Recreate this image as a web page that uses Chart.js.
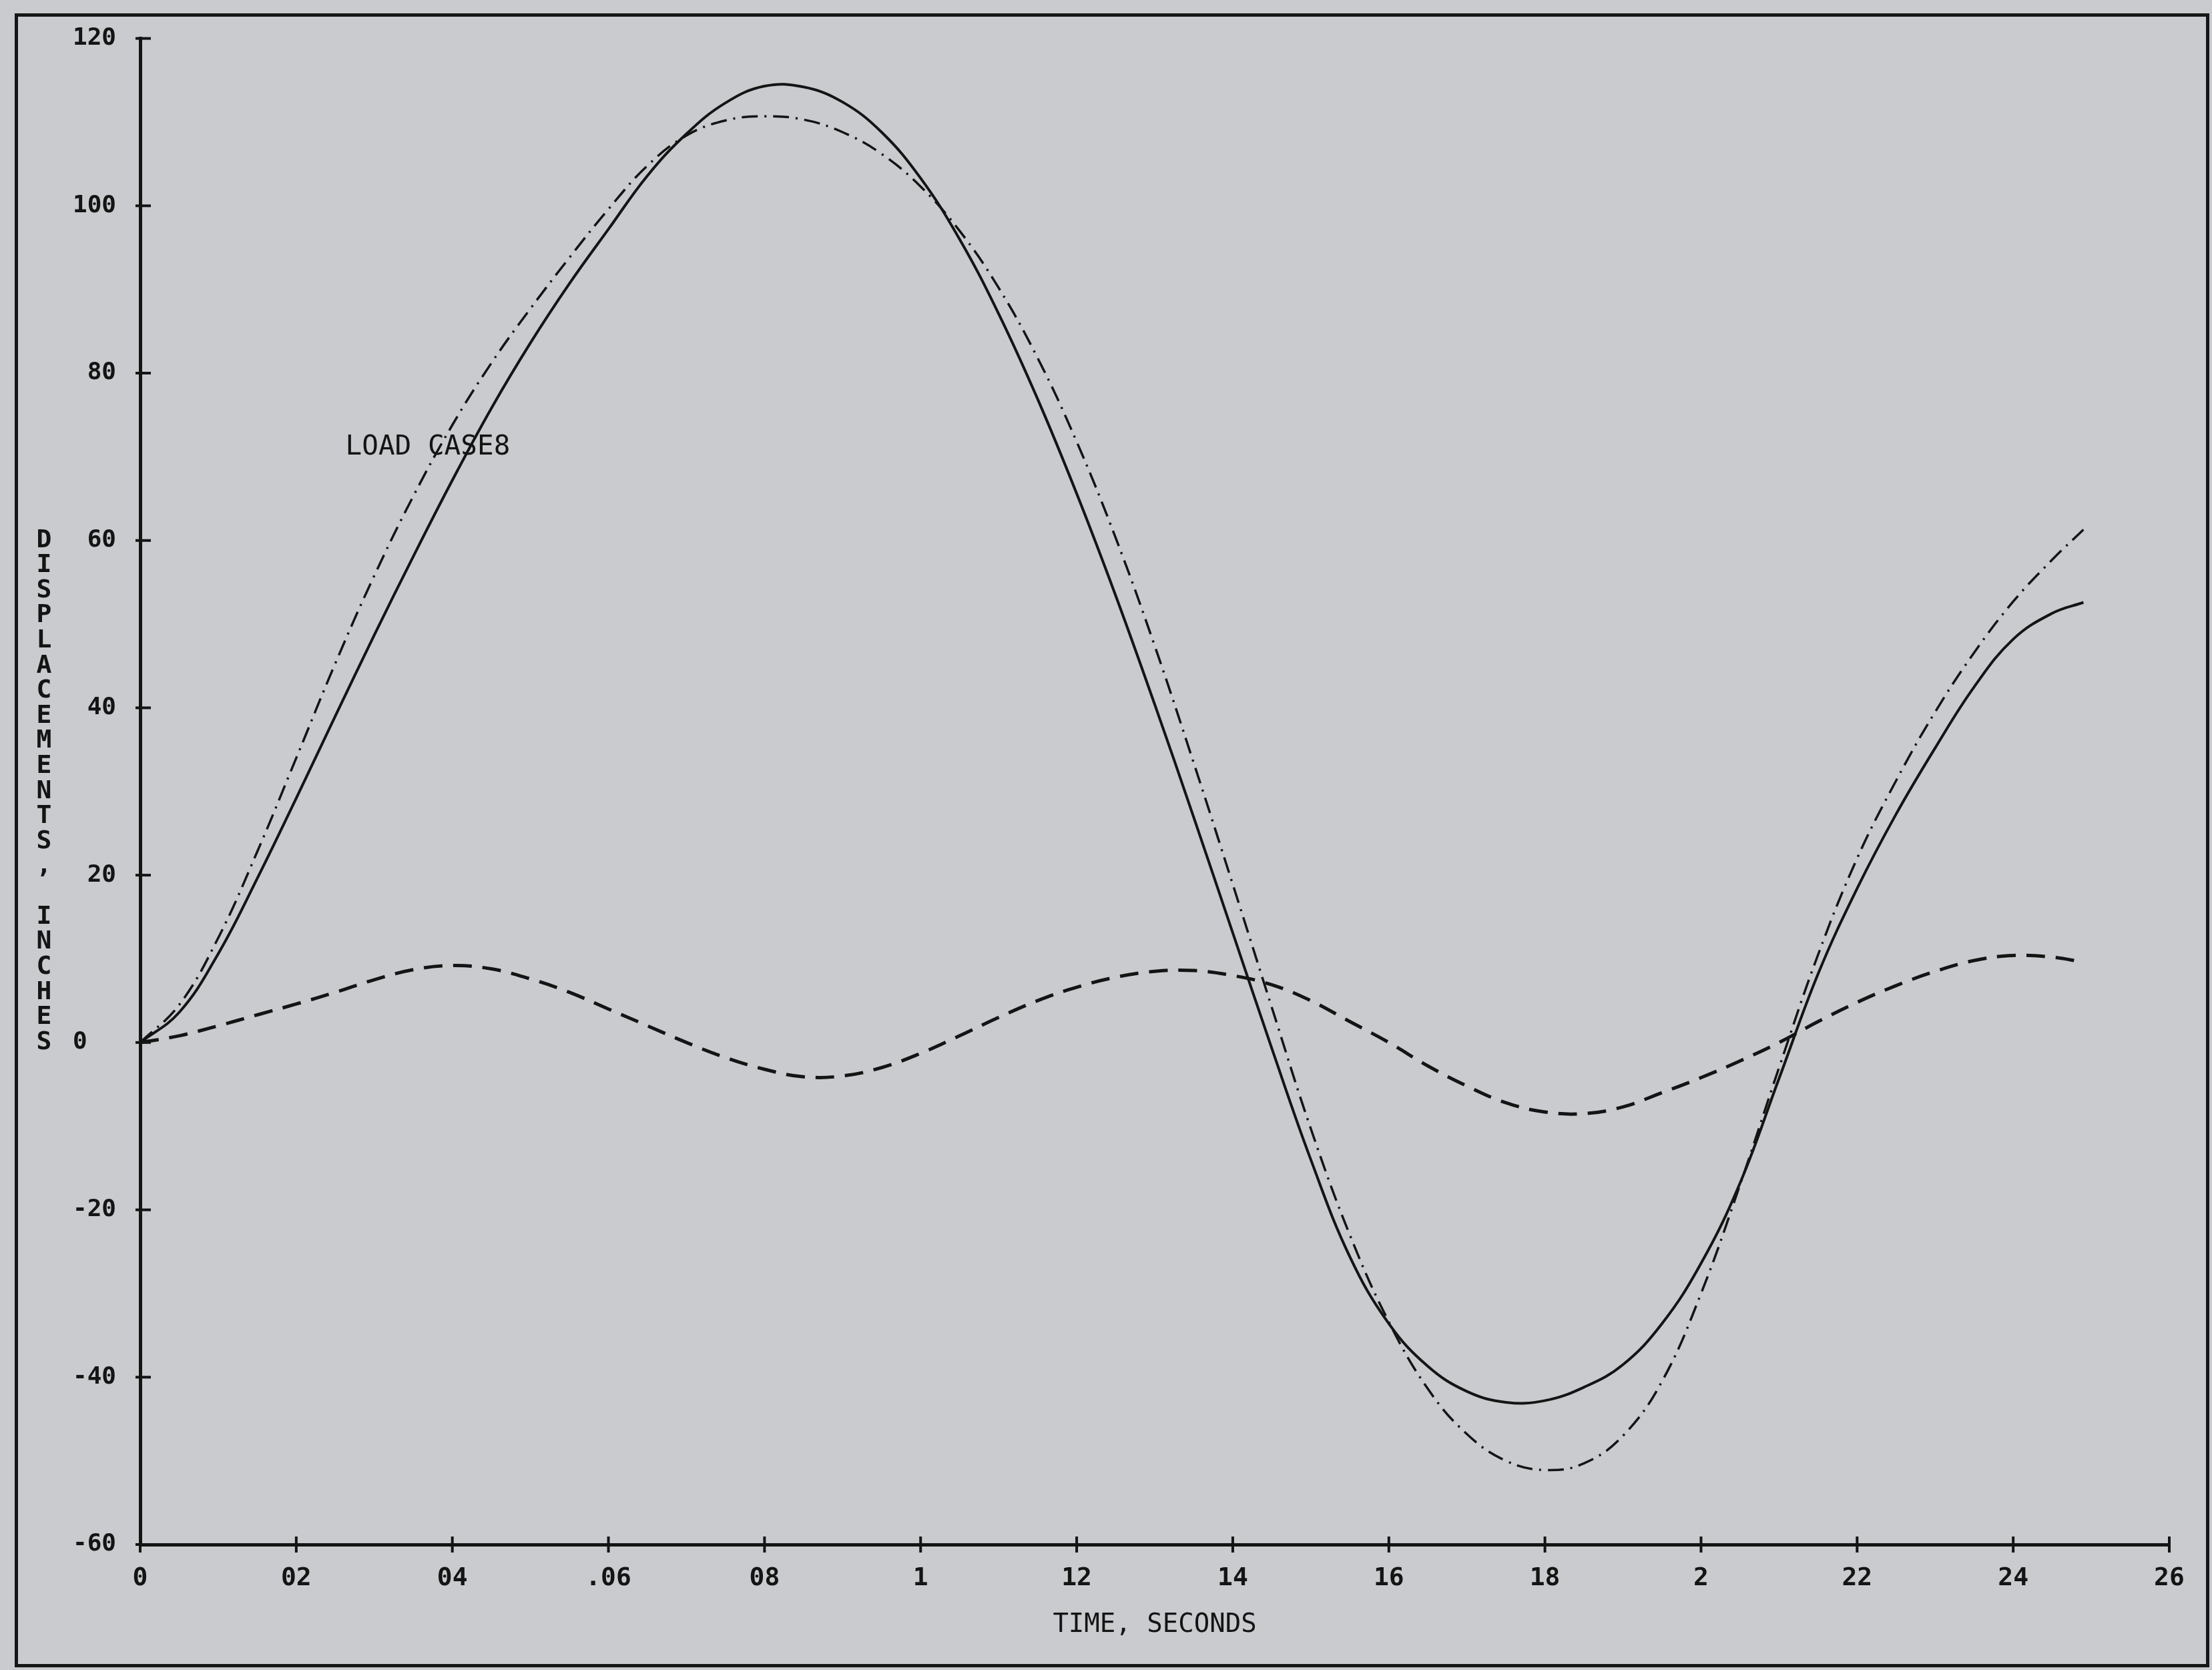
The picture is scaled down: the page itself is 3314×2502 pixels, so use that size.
<!DOCTYPE html>
<html><head><meta charset="utf-8">
<script src="https://cdn.jsdelivr.net/npm/chart.js@4/dist/chart.umd.min.js"></script>
<style>
html,body{margin:0;padding:0;background:#c9cbce;width:3314px;height:2502px;overflow:hidden;}
#frame{position:absolute;left:22px;top:20px;width:3288px;height:2478px;border:5px solid #161616;box-sizing:border-box;}
#c{position:absolute;left:0;top:0;}
</style></head><body>
<div id="frame"></div>
<canvas id="c" width="3314" height="2502"></canvas>
<script>
// ---- data ----
const times = [0,0.005,0.010,0.015,0.020,0.025,0.030,0.035,0.040,0.045,0.050,0.055,0.060,0.065,0.070,0.075,0.080,0.085,0.090,0.095,0.100,0.105,0.110,0.115,0.120,0.125,0.130,0.135,0.140,0.145,0.150,0.155,0.160,0.165,0.170,0.175,0.180,0.185,0.190,0.195,0.200,0.205,0.210,0.215,0.220,0.225,0.230,0.235,0.240,0.245,0.249];
const solidSeries = [0,3.6,10.6,19.6,29.2,39,48.7,58.1,67.2,75.8,83.6,90.7,97.2,103.6,108.6,112.3,114.3,114.2,112.4,108.8,103.3,96,87.1,76.9,65.6,53.4,40.4,26.9,13.1,-0.7,-14,-25.6,-33.6,-38.7,-41.7,-43,-42.8,-41.2,-38.5,-33.6,-26.4,-16.8,-4.3,8.2,18.4,27.3,35.2,42.5,48.2,51.3,52.6];
const dashDotSeries = [0,4.5,12.5,22.8,34,45.3,55.8,65.3,73.8,81.2,87.7,93.8,99.6,104.8,108.4,110.2,110.7,110.3,108.8,106.2,102.3,97,90.2,81.8,71.8,60.3,47.4,33.4,18.9,4.2,-10.3,-23,-33.4,-41.4,-46.8,-50,-51.1,-50.3,-47,-40.5,-30,-17,-3,10.5,22,31.3,39.5,46.6,52.7,57.7,61.3];
const dashedSeries = [0,0.8,2,3.3,4.6,6,7.5,8.7,9.2,8.8,7.6,6,4,2,0,-1.8,-3.2,-4.1,-4,-3,-1.3,0.8,3,5,6.6,7.8,8.5,8.6,8,6.9,5,2.5,0,-2.8,-5.2,-7.2,-8.3,-8.5,-7.7,-6,-4.2,-2.2,0,2.5,4.8,6.8,8.5,9.8,10.4,10.2,9.6];
const xTickLabels = ['0','02','04','.06','08','1','12','14','16','18','2','22','24','26'];
const yTickValues = [-60,-40,-20,0,20,40,60,80,100,120];
const yTitle = 'DISPLACEMENTS, INCHES';
const xTitle = 'TIME, SECONDS';
const noteText = 'LOAD CASE8';
const notePos = [0.0263, 71.1];

const INK = '#141414';
const FONT = '"DejaVu Sans Mono", "Liberation Mono", monospace';

const pts = arr => arr.map((v,i)=>({x:times[i], y:v}));

const decor = {
  id:'decor',
  afterDraw(chart){
    const ctx = chart.ctx, xs = chart.scales.x, ys = chart.scales.y, a = chart.chartArea;
    ctx.save();
    ctx.strokeStyle = INK; ctx.lineWidth = 4;
    ys.ticks.forEach(t=>{
      const y = ys.getPixelForValue(t.value);
      ctx.beginPath(); ctx.moveTo(a.left-7, y); ctx.lineTo(a.left+16, y); ctx.stroke();
    });
    xs.ticks.forEach(t=>{
      const x = xs.getPixelForValue(t.value);
      ctx.beginPath(); ctx.moveTo(x, a.bottom-12); ctx.lineTo(x, a.bottom+12); ctx.stroke();
    });
    ctx.fillStyle = INK;
    ctx.font = 'bold 38px ' + FONT;
    ctx.textAlign = 'center'; ctx.textBaseline = 'middle';
    [...yTitle].forEach((ch,i)=>{
      ctx.fillText(ch, a.left - 144, ys.getPixelForValue(60 - 3*i));
    });
    ctx.font = '41px ' + FONT;
    ctx.textAlign = 'left';
    ctx.fillText(noteText, xs.getPixelForValue(notePos[0]), ys.getPixelForValue(notePos[1]));
    ctx.restore();
  }
};

new Chart(document.getElementById('c'), {
  type:'line',
  data:{
    datasets:[
      {label:'solid', data:pts(solidSeries), borderColor:INK, borderWidth:4, pointRadius:0, tension:0.4, fill:false},
      {label:'dash-dot', data:pts(dashDotSeries), borderColor:INK, borderWidth:3.5, borderDash:[24,10,3,10], pointRadius:0, tension:0.4, fill:false},
      {label:'dashed', data:pts(dashedSeries), borderColor:INK, borderWidth:5, borderDash:[28,16], pointRadius:0, tension:0.4, fill:false}
    ]
  },
  options:{
    responsive:false, animation:false, devicePixelRatio:1,
    layout:{padding:{left:0, right:64, top:57, bottom:38}},
    plugins:{legend:{display:false}, tooltip:{enabled:false}},
    scales:{
      x:{
        type:'linear', min:0, max:0.26,
        afterFit(s){ s.height = 150; },
        afterBuildTicks(s){ s.ticks = xTickLabels.map((_,i)=>({value:i*0.02})); },
        ticks:{stepSize:0.02, padding:28, color:INK, font:{family:FONT, size:38, weight:'bold'}, maxRotation:0, autoSkip:false,
          callback:(v)=>xTickLabels[Math.round(v/0.02)] ?? ''},
        grid:{display:true, drawOnChartArea:false, drawTicks:false},
        border:{display:true, color:INK, width:5},
        title:{display:true, text:xTitle, color:INK, font:{family:FONT, size:39}, padding:{top:0, bottom:6}}
      },
      y:{
        type:'linear', min:-60, max:120,
        afterFit(s){ s.width = 210; },
        afterBuildTicks(s){ s.ticks = yTickValues.map(v=>({value:v})); },
        ticks:{stepSize:20, padding:36, color:INK, font:{family:FONT, size:36, weight:'bold'},
          callback:(v)=> v === 0 ? '0  ' : String(v)},
        grid:{display:true, drawOnChartArea:false, drawTicks:false},
        border:{display:true, color:INK, width:5}
      }
    }
  },
  plugins:[decor]
});
</script>
</body></html>
